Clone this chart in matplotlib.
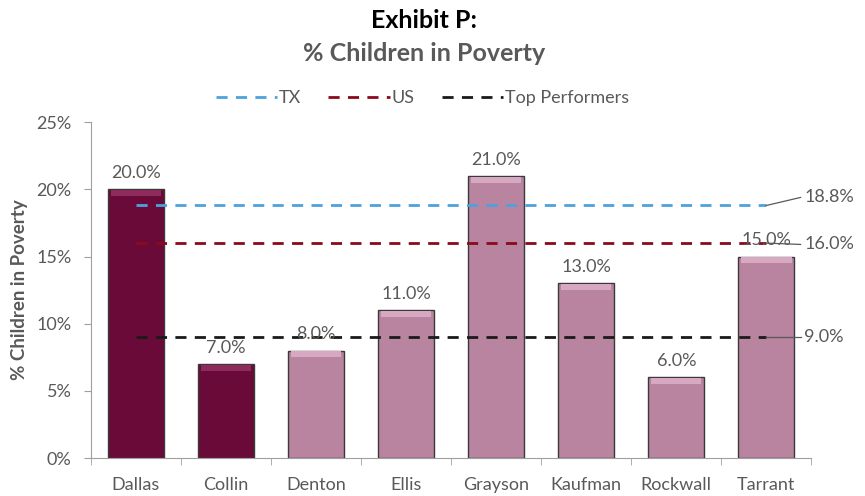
import numpy as np
import matplotlib.pyplot as plt
from matplotlib.ticker import FuncFormatter

plt.rcParams['font.family'] = ['Lato', 'DejaVu Sans']

counties = ['Dallas', 'Collin', 'Denton', 'Ellis', 'Grayson', 'Kaufman', 'Rockwall', 'Tarrant']
poverty = [20.0, 7.0, 8.0, 11.0, 21.0, 13.0, 6.0, 15.0]
highlight = [True, True, False, False, False, False, False, False]

ref_names = ['TX', 'US', 'Top Performers']
ref_values = [18.8, 16.0, 9.0]
ref_colors = ['#4EA1DC', '#8B0A1A', '#1A1A1A']

dark = '#6A0A38'
light = '#B8849F'
grey = '#595959'

fig = plt.figure(figsize=(8.65, 4.96), dpi=100)
ax = fig.add_axes([0.105, 0.0766, 0.833, 0.677])

x = np.arange(len(counties))
colors = [dark if h else light for h in highlight]
ax.bar(x, poverty, width=0.62, color=colors, edgecolor='#3A3A3A', linewidth=1.0, zorder=2)

# bevel-ish highlight at the top of each bar
for xi, v, h in zip(x, poverty, highlight):
    top_c = '#8E2A5C' if h else '#D7A8C2'
    ax.bar(xi, 0.45, bottom=v - 0.5, width=0.56, color=top_c, linewidth=0, zorder=3)

for xi, v in zip(x, poverty):
    ax.text(xi, v + 0.6, f'{v:.1f}%', ha='center', va='bottom', fontsize=13, color=grey, zorder=5)

handles = []
for name, val, c in zip(ref_names, ref_values, ref_colors):
    h, = ax.plot([x[0], x[-1]], [val, val], color=c, linestyle=(0, (4, 3)), linewidth=2, label=name, zorder=4)
    handles.append(h)

# leader lines and labels on the right
label_y = {18.8: 19.4, 16.0: 15.9, 9.0: 9.0}
for val in ref_values:
    ly = label_y[val]
    ax.plot([x[-1], x[-1] + 0.38], [val, ly], color=grey, linewidth=0.9, clip_on=False, zorder=4)
    ax.text(x[-1] + 0.42, ly, f'{val:.1f}%', ha='left', va='center', fontsize=13, color=grey)

ax.set_xlim(-0.5, len(counties) - 0.5)
ax.set_ylim(0, 25)
ax.set_xticks(x)
ax.set_xticks(np.arange(-0.5, len(counties), 1.0), minor=True)
ax.set_xticklabels(counties, fontsize=13, color=grey)
ax.set_yticks(np.arange(0, 26, 5))
ax.yaxis.set_major_formatter(FuncFormatter(lambda v, p: f'{v:.0f}%'))
ax.tick_params(axis='y', labelsize=13, labelcolor=grey, color='#A0A0A0', length=5, pad=9)
ax.tick_params(axis='x', which='major', length=0, pad=14)
ax.tick_params(axis='x', which='minor', length=5, color='#A0A0A0')
ax.set_ylabel('% Children in Poverty', fontsize=13.5, fontweight='bold', color=grey, labelpad=6)

for s in ['top', 'right']:
    ax.spines[s].set_visible(False)
ax.spines['left'].set_color('#A0A0A0')
ax.spines['bottom'].set_color('#A0A0A0')

ax.legend(handles=handles, loc='center', bbox_to_anchor=(0.46, 1.071), ncol=3, frameon=False,
          fontsize=13, handlelength=3.4, handletextpad=0.1, columnspacing=1.5, labelcolor=grey)

fig.text(0.49, 0.958, 'Exhibit P:', ha='center', va='center', fontsize=18, fontweight='bold', color='#000000')
fig.text(0.49, 0.893, '% Children in Poverty', ha='center', va='center', fontsize=18, fontweight='bold', color=grey)

fig.savefig('out.png', dpi=100)
